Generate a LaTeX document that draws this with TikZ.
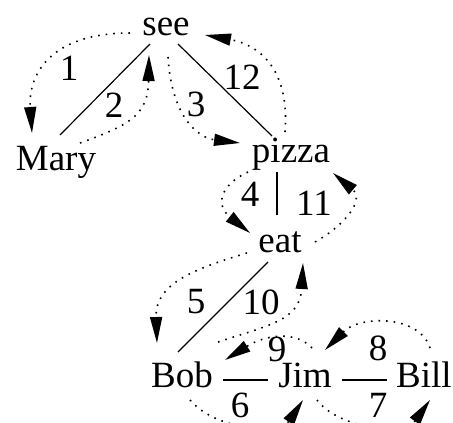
\documentclass[tikz,border=0pt]{standalone}
\usepackage{fontspec}
\setmainfont{Liberation Serif}
\usetikzlibrary{arrows.meta}
\begin{document}
\begin{tikzpicture}[x=1pt,y=-1pt,
  word/.style={inner sep=0pt,anchor=base,text height=25pt,text depth=8pt,font=\fontsize{37}{40}\selectfont},
  lab/.style={inner sep=0pt,anchor=center,font=\fontsize{37}{40}\selectfont},
  edge/.style={line width=1.2pt},
  walk/.style={line width=1.6pt,dash pattern=on 1.6pt off 6pt,-{Triangle[length=26pt,width=12pt]}}]
\useasboundingbox (0,0) rectangle (453,423);
% words
\node[word] (see)   at (166,35)  {see};
\node[word] (mary)  at (56,170)  {Mary};
\node[word] (pizza) at (291,162) {pizza};
\node[word] (eat)   at (280,252) {eat};
\node[word] (bob)   at (182,387) {Bob};
\node[word] (jim)   at (305,387) {Jim};
\node[word] (bill)  at (424,387) {Bill};
% tree edges
\draw[edge] ([shift={(-16,17.5)}]see.center) -- ([shift={(4,-26.5)}]mary.center);
\draw[edge] ([shift={(12,17.5)}]see.center) -- ([shift={(-19,-17.5)}]pizza.center);
\draw[edge] ([shift={(-14,18.5)}]pizza.center) -- ([shift={(-3,-28.5)}]eat.center);
\draw[edge] ([shift={(-12,18.5)}]eat.center) -- ([shift={(-4,-26.5)}]bob.center);
\draw[edge] ([shift={(41,1.5)}]bob.center) -- ([shift={(-37,1.5)}]jim.center);
\draw[edge] ([shift={(37,1.5)}]jim.center) -- ([shift={(-37,1.5)}]bill.center);
% traversal
\draw[walk] ([shift={(-36,6.5)}]see.center) .. controls (50,33) and (28,75) .. ([shift={(-24,-28.5)}]mary.center);
\draw[walk] ([shift={(24,-18.5)}]mary.center) .. controls (130,125) and (148,115) .. ([shift={(-17,28.5)}]see.center);
\draw[walk] ([shift={(2,30.5)}]see.center) .. controls (172,120) and (200,138) .. ([shift={(-51,-10.5)}]pizza.center);
\draw[walk] ([shift={(-6,-21.5)}]pizza.center) .. controls (290,70) and (260,45) .. ([shift={(39,8.5)}]see.center);
\draw[walk] ([shift={(-43,18.5)}]pizza.center) .. controls (220,185) and (215,205) .. ([shift={(-30,-10.5)}]eat.center);
\draw[walk] ([shift={(35,-1.5)}]eat.center) .. controls (345,225) and (365,200) .. ([shift={(42,19.5)}]pizza.center);
\draw[walk] ([shift={(-33,9.5)}]eat.center) .. controls (190,270) and (155,285) .. ([shift={(-25,-35.5)}]bob.center);
\draw[walk] ([shift={(36,-36.5)}]bob.center) .. controls (270,325) and (300,320) .. ([shift={(23,19.5)}]eat.center);
\draw[walk] ([shift={(7,-30.5)}]jim.center) .. controls (295,330) and (265,335) .. ([shift={(43,-18.5)}]bob.center);
\draw[walk] ([shift={(6,-30.5)}]bill.center) .. controls (420,315) and (360,315) .. ([shift={(20,-28.5)}]jim.center);
\draw[walk] ([shift={(8,21.5)}]bob.center) .. controls (215,430) and (280,435) .. ([shift={(-2,21.5)}]jim.center);
\draw[walk] ([shift={(12,21.5)}]jim.center) .. controls (340,430) and (405,435) .. ([shift={(6,21.5)}]bill.center);
% step numbers
\node[lab] (l1)  at (69,68)   {1};
\node[lab] (l2)  at (114,105) {2};
\node[lab] (l3)  at (196,104) {3};
\node[lab] (l4)  at (250,194) {4};
\node[lab] (l5)  at (196,302) {5};
\node[lab] (l6)  at (240,405) {6};
\node[lab] (l7)  at (378,405) {7};
\node[lab] (l8)  at (378,348) {8};
\node[lab] (l9)  at (277,349) {9};
\node[lab] (l10) at (261,302) {10};
\node[lab] (l11) at (314,203) {11};
\node[lab] (l12) at (242,77)  {12};
\end{tikzpicture}
\end{document}
